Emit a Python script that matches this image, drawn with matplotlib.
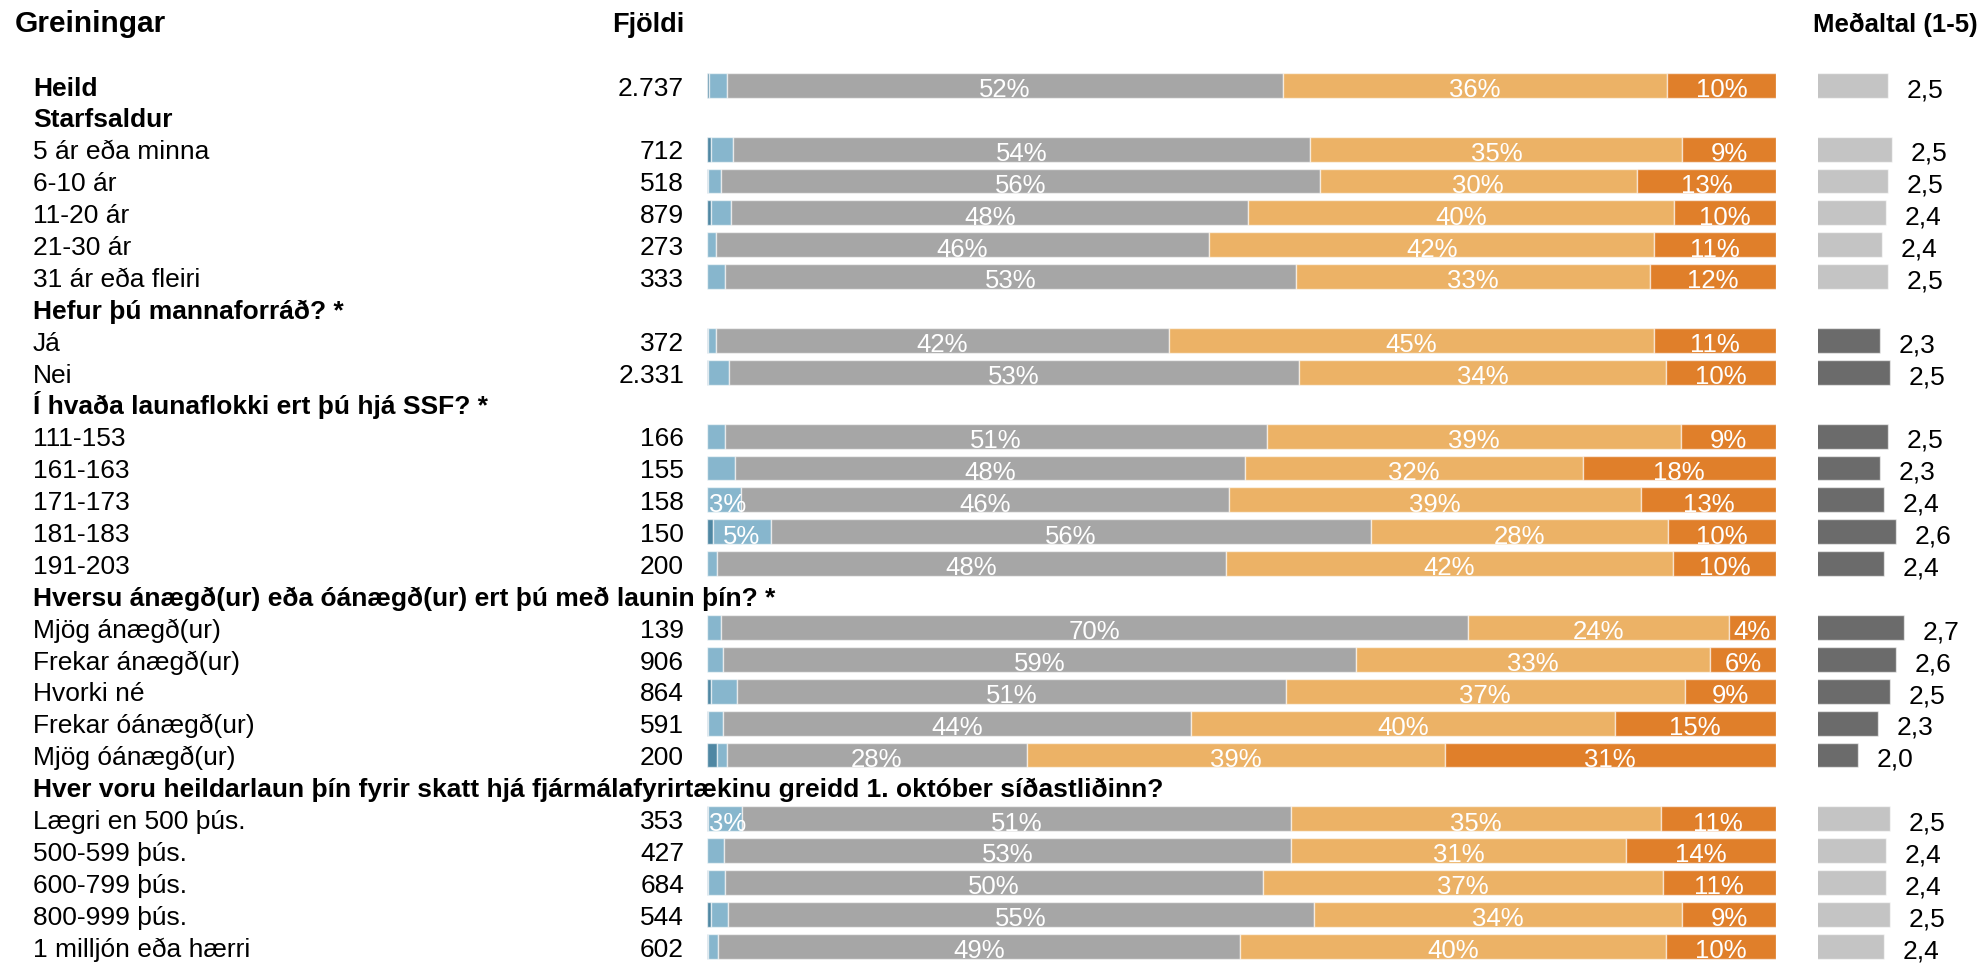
import numpy as np
import matplotlib
matplotlib.use("Agg")
import matplotlib.pyplot as plt
from matplotlib.transforms import blended_transform_factory

plt.rcParams['font.family'] = ['Liberation Sans', 'DejaVu Sans']

# rows of the table, top to bottom; True = bold group heading
row_labels = [
    "Heild", "Starfsaldur", "5 ár eða minna", "6-10 ár", "11-20 ár", "21-30 ár",
    "31 ár eða fleiri", "Hefur þú mannaforráð? *", "Já", "Nei",
    "Í hvaða launaflokki ert þú hjá SSF? *", "111-153", "161-163", "171-173",
    "181-183", "191-203",
    "Hversu ánægð(ur) eða óánægð(ur) ert þú með launin þín? *",
    "Mjög ánægð(ur)", "Frekar ánægð(ur)", "Hvorki né", "Frekar óánægð(ur)",
    "Mjög óánægð(ur)",
    "Hver voru heildarlaun þín fyrir skatt hjá fjármálafyrirtækinu greidd 1. október síðastliðinn?",
    "Lægri en 500 þús.", "500-599 þús.", "600-799 þús.", "800-999 þús.",
    "1 milljón eða hærri",
]
row_bold = [True, True, False, False, False, False, False, True, False, False,
            True, False, False, False, False, False, True, False, False, False,
            False, False, True, False, False, False, False, False]
# rows that carry a bar (headings other than Heild do not)
has_bar = [True, False, True, True, True, True, True, False, True, True,
           False, True, True, True, True, True, False, True, True, True,
           True, True, False, True, True, True, True, True]
# significance of the group -> dark mean bars
row_signif = [False] * 7 + [True] * 15 + [False] * 6

counts = [2737, 712, 518, 879, 273, 333, 372, 2331, 166, 155, 158, 150, 200,
          139, 906, 864, 591, 200, 353, 427, 684, 544, 602]

# answer shares (%) per bar row
p_dark = [0.15, 0.35, 0.1, 0.35, 0, 0, 0.1, 0.1, 0, 0, 0, 0.55, 0,
          0, 0, 0.35, 0.1, 0.9, 0.1, 0, 0.1, 0.35, 0.1]
p_light = [1.7, 2.1, 1.2, 1.9, 0.8, 1.7, 0.7, 1.95, 1.7, 2.6, 3.2, 5.45, 0.95,
           1.3, 1.5, 2.5, 1.4, 1.0, 3.2, 1.6, 1.6, 1.6, 0.9]
p_gray = [52, 54, 56, 48.4, 46.2, 53.4, 42.4, 53.3, 50.7, 47.7, 45.6, 56.1, 47.6,
          69.9, 59.2, 51.3, 43.8, 28.0, 51.3, 53.0, 50.3, 54.8, 48.9]
p_lorange = [36, 34.8, 29.7, 39.8, 41.6, 33.1, 45.4, 34.4, 38.7, 31.6, 38.6, 27.8, 41.8,
             24.4, 33.1, 37.3, 39.6, 39.1, 34.6, 31.4, 37.4, 34.45, 39.8]
p_orange = [10.15, 8.75, 13.0, 9.55, 11.4, 11.8, 11.4, 10.25, 8.9, 18.1, 12.6, 10.1, 9.65,
            4.4, 6.2, 8.55, 15.1, 31.0, 10.8, 14.0, 10.6, 8.8, 10.3]

means = [2.46, 2.52, 2.46, 2.43, 2.36, 2.46, 2.33, 2.49, 2.46, 2.33, 2.39, 2.58, 2.39,
         2.70, 2.58, 2.49, 2.30, 2.00, 2.49, 2.43, 2.43, 2.49, 2.39]

seg_colors = ['#4f87a3', '#87b6cd', '#a6a6a6', '#ecb266', '#e07f2a']
mean_light = '#c4c4c4'
mean_dark = '#6b6b6b'

W, H = 1985, 964
fig = plt.figure(figsize=(W / 100, H / 100), dpi=100)

# vertical mapping: row i centre at 85 px, 31.89 px per row
pitch, y0 = 31.89, 85.3
ylim = ((H - y0) / pitch, -y0 / pitch)

ax = fig.add_axes([707 / W, 0, 1069 / W, 1])
ax.set_xlim(0, 100)
ax.set_ylim(*ylim)
ax.axis('off')

axm = fig.add_axes([1818 / W, 0, 167 / W, 1])
mscale = 65.7  # px per unit
axm.set_xlim(1.39, 1.39 + 167 / mscale)
axm.set_ylim(*ylim)
axm.axis('off')

bar_y = np.array([i for i, b in enumerate(has_bar) if b])
segs = np.array([p_dark, p_light, p_gray, p_lorange, p_orange])
bh = 0.78

left = np.zeros(len(bar_y))
for k in range(5):
    ax.barh(bar_y, segs[k], left=left, height=bh, color=seg_colors[k],
            edgecolor=(1, 1, 1, 0.6), linewidth=1)
    for y, l, v in zip(bar_y, left, segs[k]):
        if v >= 3:
            # keep narrow labels inside the bar's left end
            ax.text(max(l + v / 2, 1.9), y + 0.37, f"{v:.0f}%", color='white',
                    ha='center', va='baseline', fontsize=18.5)
    left += segs[k]

signif = np.array(row_signif)[bar_y]
mcolors = [mean_dark if s else mean_light for s in signif]
axm.barh(bar_y, means, height=bh, color=mcolors,
         edgecolor=(1, 1, 1, 0.6), linewidth=1)
for y, m in zip(bar_y, means):
    axm.annotate(f"{m:.1f}".replace('.', ','), xy=(m, y + 0.37),
                 xytext=(13.5, 0), textcoords='offset points',
                 ha='left', va='baseline', fontsize=19, annotation_clip=False)

trans = blended_transform_factory(fig.transFigure, ax.transData)
for i, (lab, b) in enumerate(zip(row_labels, row_bold)):
    ax.text(33 / W, i + 0.32, lab, transform=trans, ha='left', va='baseline',
            fontsize=19, fontweight='bold' if b else 'normal')
for y, c in zip(bar_y, counts):
    ax.text(684 / W, y + 0.32, f"{c:,}".replace(',', '.'), transform=trans,
            ha='right', va='baseline', fontsize=19)

# column headings
ax.text(15 / W, -2.0 + 0.32, "Greiningar", transform=trans, ha='left',
        va='baseline', fontsize=21.5, fontweight='bold')
ax.text(684 / W, -2.0 + 0.32, "Fjöldi", transform=trans, ha='right',
        va='baseline', fontsize=19.5, fontweight='bold')
ax.text(1813 / W, -2.0 + 0.32, "Meðaltal (1-5)", transform=trans, ha='left',
        va='baseline', fontsize=18.5, fontweight='bold')

fig.savefig("out.png", dpi=100)
